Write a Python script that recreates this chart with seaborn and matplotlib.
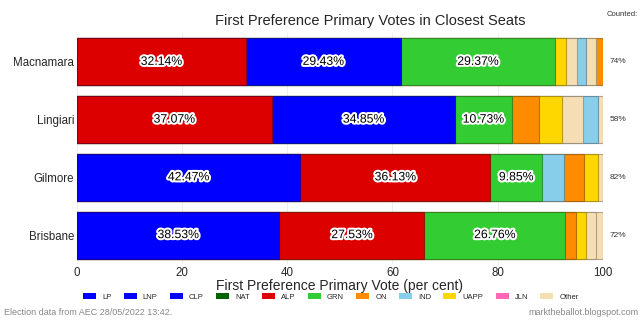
import matplotlib
matplotlib.use("Agg")
import matplotlib.pyplot as plt
import matplotlib.patheffects as pe
from matplotlib.patches import Patch
import matplotlib.colors as mcolors
import seaborn as sns
import pandas as pd
import numpy as np

seats = ["Macnamara", "Lingiari", "Gilmore", "Brisbane"]
counted = ["74%", "58%", "82%", "72%"]

macnamara_parties = ["ALP", "LP", "GRN", "UAPP", "Other", "IND", "Other", "ON"]
macnamara_votes = [32.14, 29.43, 29.37, 2.10, 2.00, 1.80, 1.80, 1.36]
lingiari_parties = ["ALP", "CLP", "GRN", "ON", "UAPP", "Other", "IND", "Other"]
lingiari_votes = [37.07, 34.85, 10.73, 5.30, 4.20, 4.00, 2.95, 0.90]
gilmore_parties = ["LP", "ALP", "GRN", "IND", "ON", "UAPP", "Other"]
gilmore_votes = [42.47, 36.13, 9.85, 4.20, 3.80, 2.70, 0.85]
brisbane_parties = ["LNP", "ALP", "GRN", "ON", "UAPP", "Other", "Other"]
brisbane_votes = [38.53, 27.53, 26.76, 2.10, 1.80, 1.90, 1.38]

legend_parties = ["LP", "LNP", "CLP", "NAT", "ALP", "GRN", "ON", "IND", "UAPP", "JLN", "Other"]
party_colors = {
    "LP": "#0000FF", "LNP": "#0000FF", "CLP": "#0000FF", "NAT": "#006400",
    "ALP": "#DD0000", "GRN": "#33CC33", "ON": "#FF8C00", "IND": "#87CEEB",
    "UAPP": "#FFD700", "JLN": "#FF69B4", "Other": "#F5DEB3",
}

seat_parties = [macnamara_parties, lingiari_parties, gilmore_parties, brisbane_parties]
seat_votes = [macnamara_votes, lingiari_votes, gilmore_votes, brisbane_votes]

rows = []
for s, parties, votes in zip(seats, seat_parties, seat_votes):
    cum = np.cumsum(votes)
    for i, (p, v) in enumerate(zip(parties, votes)):
        rows.append(dict(seat=s, layer=i, party=p, vote=v, cum=cum[i], start=cum[i] - v))
df = pd.DataFrame(rows)

sns.set_theme(style="whitegrid")
plt.rcParams["font.family"] = ["Liberation Sans", "DejaVu Sans"]

fig = plt.figure(figsize=(6.4, 3.2), dpi=100)
ax = fig.add_axes([0.120, 0.175, 0.822, 0.722])

max_layer = df["layer"].max()
for layer in range(max_layer, -1, -1):
    sub = df[df["layer"] == layer]
    sub = sub.set_index("seat").reindex(seats).reset_index()
    sub["cum"] = sub["cum"].fillna(0)
    cols = [party_colors.get(p, "#FFFFFF") if isinstance(p, str) else "#FFFFFF" for p in sub["party"]]
    n_before = len(ax.patches)
    sns.barplot(data=sub, x="cum", y="seat", hue="seat", palette=cols, order=seats,
                hue_order=seats, legend=False, width=0.81, dodge=False, ax=ax,
                linewidth=0.8, saturation=1)
    for patch in ax.patches[n_before:]:
        fc = patch.get_facecolor()
        dark = tuple(np.array(mcolors.to_rgb(fc)) * 0.6)
        patch.set_edgecolor(dark + (0.7,))

# labels for the big segments
for _, r in df[df["layer"] < 3].iterrows():
    y = seats.index(r["seat"])
    ax.text(r["start"] + r["vote"] / 2, y, f"{r['vote']:.2f}%", ha="center", va="center",
            fontsize=8.8, color="black",
            path_effects=[pe.withStroke(linewidth=3, foreground="white")])

ax.set_xlim(0, 100)
ax.set_ylim(3.5, -0.5)
ax.set_xticks([0, 20, 40, 60, 80, 100])
ax.tick_params(axis="both", labelsize=8.3, length=0, pad=2)
ax.set_ylabel("")
ax.set_xlabel("First Preference Primary Vote (per cent)", fontsize=10, labelpad=0)
ax.grid(axis="y", visible=False)
ax.grid(axis="x", color="#eeeeee", linewidth=0.8)
for sp in ax.spines.values():
    sp.set_visible(False)

# counted
fig.text(0.997, 0.955, "Counted:", ha="right", va="center", fontsize=5.5, color="#333333")
for i, c in enumerate(counted):
    yd = ax.transData.transform((0, i))[1]
    yf = fig.transFigure.inverted().transform((0, yd))[1]
    fig.text(0.966, yf, c, ha="center", va="center", fontsize=6, color="#333333")

fig.suptitle("First Preference Primary Votes in Closest Seats", fontsize=10.5, y=0.955, x=0.579)

handles = [Patch(facecolor=party_colors[p], edgecolor="none", label=p) for p in legend_parties]
fig.legend(handles=handles, loc="center", bbox_to_anchor=(0.517, 0.072), ncol=11,
           fontsize=5.5, frameon=False, handlelength=1.7, handleheight=0.8,
           columnspacing=1.6, handletextpad=0.8)

fig.text(0.006, 0.022, "Election data from AEC 28/05/2022 13:42.", ha="left", va="center",
         fontsize=6.5, color="#888888")
fig.text(0.997, 0.022, "marktheballot.blogspot.com", ha="right", va="center",
         fontsize=6.5, color="#888888")

fig.savefig("out.png", dpi=100)
